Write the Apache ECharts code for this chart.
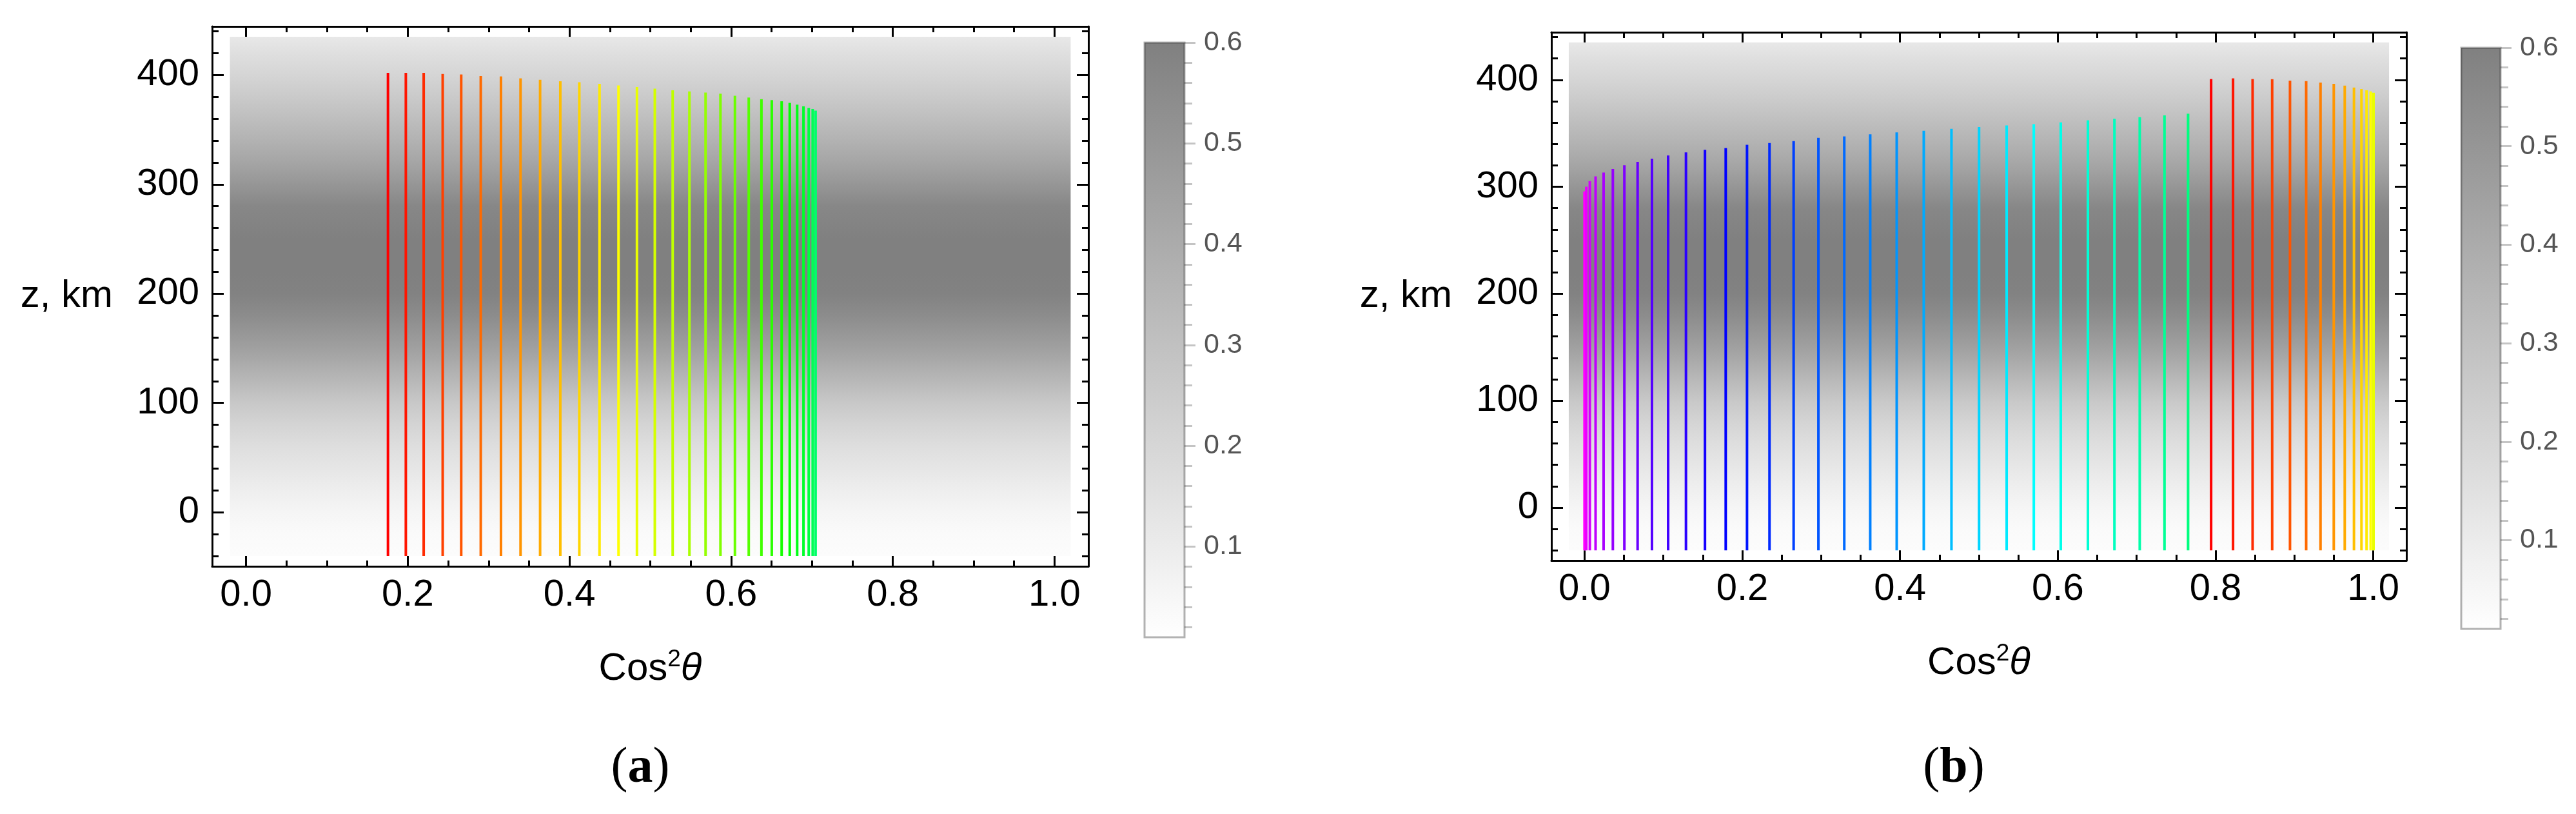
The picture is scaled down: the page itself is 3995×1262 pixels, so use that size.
<!DOCTYPE html>
<html><head><meta charset="utf-8">
<script src="https://cdn.jsdelivr.net/npm/echarts@6/dist/echarts.min.js"></script>
<style>html,body{margin:0;padding:0;background:#fff}#c{width:3995px;height:1262px}</style>
</head><body><div id="c"></div>
<script>
// ---------------- data ----------------
const xTicks = [0.0, 0.2, 0.4, 0.6, 0.8, 1.0];
const xMinorTicks = [0.05, 0.1, 0.15, 0.25, 0.3, 0.35, 0.45, 0.5, 0.55, 0.65, 0.7, 0.75, 0.85, 0.9, 0.95];
const zTicks = [0, 100, 200, 300, 400];
const zMinorTicks = [-40, -20, 20, 40, 60, 80, 120, 140, 160, 180, 220, 240, 260, 280, 320, 340, 360, 380, 420, 440];
const cbTicks = [0.1, 0.2, 0.3, 0.4, 0.5, 0.6];
const cbMinorTicks = [0.02, 0.04, 0.06, 0.08, 0.12, 0.14, 0.16, 0.18, 0.22, 0.24, 0.26, 0.28, 0.32, 0.34, 0.36, 0.38, 0.42, 0.44, 0.46, 0.48, 0.52, 0.54, 0.56, 0.58];
const cbRange = [0.01, 0.6];

// density profile (independent of cos^2 theta)
const densityX = [-0.02, 1.02];
const densityZ = [-40, -20, 0, 20, 40, 60, 80, 100, 125, 150, 180, 200, 220, 250, 280, 300, 320, 340, 360, 380, 400, 420, 435];
const densityV = [0.024, 0.033, 0.056, 0.089, 0.125, 0.163, 0.21, 0.266, 0.358, 0.451, 0.544, 0.59, 0.6, 0.6, 0.567, 0.498, 0.428, 0.37, 0.312, 0.258, 0.205, 0.16, 0.117];

const lineBottom = -40;

// panel (a)
const aX = [0.1755, 0.1976, 0.2197, 0.2432, 0.2661, 0.2903, 0.3153, 0.3395, 0.3637, 0.3887, 0.4122, 0.4372, 0.4607, 0.4835, 0.5056, 0.5277, 0.5484, 0.5684, 0.5868, 0.6047, 0.6218, 0.6375, 0.6503, 0.6625, 0.6725, 0.6817, 0.6895, 0.6960, 0.7009, 0.7045];
const aTop = [402, 402, 402, 401, 400.5, 399, 398.7, 397, 395.6, 394.4, 393.4, 392, 390.5, 389, 387.5, 386, 385, 384, 383, 381, 379.5, 378, 377, 376, 374.5, 373, 371.5, 370, 369, 367.5];

// panel (b), first family
const bX1 = [0.0, 0.0023, 0.0067, 0.014, 0.0242, 0.0359, 0.0505, 0.0673, 0.0855, 0.106, 0.1286, 0.1527, 0.179, 0.206, 0.2345, 0.2651, 0.2965, 0.3293, 0.3622, 0.3958, 0.4301, 0.4652, 0.5002, 0.5352, 0.5696, 0.6038, 0.6382, 0.6718, 0.7039, 0.7353, 0.7652];
const bTop1 = [295.7, 300.1, 305.3, 309.7, 313.3, 316.7, 320.1, 323.3, 326.3, 329.3, 332.1, 334.5, 336.3, 339.2, 340.9, 342.7, 345.7, 347.1, 349, 350.8, 352.4, 354.2, 355.8, 357.4, 358.6, 360.2, 362.2, 363.6, 365.2, 366.8, 368.4];
// panel (b), second family
const bX2 = [0.7944, 0.8222, 0.847, 0.8718, 0.8944, 0.9149, 0.9331, 0.9499, 0.9638, 0.9755, 0.985, 0.9915, 0.9967, 1.0003];
const bTop2 = [400.8, 401.4, 400.8, 400.6, 399.2, 398.8, 397.4, 396.2, 394.6, 392.8, 391.4, 390.2, 389.2, 388];

// ---------------- styling helpers ----------------
const FONT = 'Liberation Sans';
function hueColor(h) {
  h = ((h % 360) + 360) % 360;
  const x = 1 - Math.abs((h / 60) % 2 - 1);
  let r, g, b;
  if (h < 60) [r, g, b] = [1, x, 0];
  else if (h < 120) [r, g, b] = [x, 1, 0];
  else if (h < 180) [r, g, b] = [0, 1, x];
  else if (h < 240) [r, g, b] = [0, x, 1];
  else if (h < 300) [r, g, b] = [x, 0, 1];
  else [r, g, b] = [1, 0, x];
  return 'rgb(' + Math.round(r * 255) + ',' + Math.round(g * 255) + ',' + Math.round(b * 255) + ')';
}
function grayOf(v) {
  const t = Math.max(0, Math.min(1, (v - cbRange[0]) / (cbRange[1] - cbRange[0])));
  const L = Math.round(255 - t * 127);
  return 'rgb(' + L + ',' + L + ',' + L + ')';
}

const XR = [-0.042, 1.042];
const ZR = [-49.5, 444.5];
const tickStyle = { color: '#000', width: 3 };

function panelXAxes(gi) {
  const base = { gridIndex: gi, type: 'value', min: XR[0], max: XR[1], splitLine: { show: false } };
  return [
    Object.assign({}, base, {
      position: 'bottom',
      axisLine: { onZero: false, lineStyle: { color: '#000', width: 3 } },
      axisTick: { inside: true, length: 17, customValues: xTicks, lineStyle: tickStyle },
      axisLabel: { customValues: xTicks, formatter: v => v.toFixed(1), fontSize: 58, fontFamily: FONT, color: '#000', margin: 16 },
      name: '{n|Cos}{s|2}{t|θ}', nameLocation: 'middle', nameGap: 126,
      nameTextStyle: { rich: {
        n: { fontSize: 60, fontFamily: FONT, color: '#000', lineHeight: 66 },
        s: { fontSize: 37, fontFamily: FONT, color: '#000', verticalAlign: 'top', lineHeight: 66 },
        t: { fontSize: 60, fontFamily: FONT, color: '#000', fontStyle: 'italic', lineHeight: 66 } } }
    }),
    Object.assign({}, base, {
      position: 'bottom', axisLine: { show: false, onZero: false },
      axisTick: { inside: true, length: 9, customValues: xMinorTicks, lineStyle: tickStyle },
      axisLabel: { show: false }
    }),
    Object.assign({}, base, {
      position: 'top', axisLine: { onZero: false, lineStyle: { color: '#000', width: 3 } },
      axisTick: { inside: true, length: 17, customValues: xTicks, lineStyle: tickStyle },
      axisLabel: { show: false }
    }),
    Object.assign({}, base, {
      position: 'top', axisLine: { show: false, onZero: false },
      axisTick: { inside: true, length: 9, customValues: xMinorTicks, lineStyle: tickStyle },
      axisLabel: { show: false }
    })
  ];
}
function panelYAxes(gi) {
  const base = { gridIndex: gi, type: 'value', min: ZR[0], max: ZR[1], splitLine: { show: false } };
  return [
    Object.assign({}, base, {
      position: 'left',
      axisLine: { onZero: false, lineStyle: { color: '#000', width: 3 } },
      axisTick: { inside: true, length: 18, customValues: zTicks, lineStyle: tickStyle },
      axisLabel: { customValues: zTicks, fontSize: 58, fontFamily: FONT, color: '#000', margin: 20 },
      name: 'z, km', nameLocation: 'middle', nameRotate: 0, nameGap: 154,
      nameTextStyle: { fontSize: 60, fontFamily: FONT, color: '#000' }
    }),
    Object.assign({}, base, {
      position: 'left', axisLine: { show: false, onZero: false },
      axisTick: { inside: true, length: 10, customValues: zMinorTicks, lineStyle: tickStyle },
      axisLabel: { show: false }
    }),
    Object.assign({}, base, {
      position: 'right', axisLine: { onZero: false, lineStyle: { color: '#000', width: 3 } },
      axisTick: { inside: true, length: 18, customValues: zTicks, lineStyle: tickStyle },
      axisLabel: { show: false }
    }),
    Object.assign({}, base, {
      position: 'right', axisLine: { show: false, onZero: false },
      axisTick: { inside: true, length: 10, customValues: zMinorTicks, lineStyle: tickStyle },
      axisLabel: { show: false }
    })
  ];
}
function cbXAxis(gi) {
  return { gridIndex: gi, type: 'value', min: 0, max: 1, show: false };
}
function cbYAxes(gi) {
  const base = { gridIndex: gi, type: 'value', min: cbRange[0], max: cbRange[1], position: 'right', splitLine: { show: false } };
  return [
    Object.assign({}, base, {
      axisLine: { show: false, onZero: false },
      axisTick: { inside: false, length: 17, customValues: cbTicks, lineStyle: { color: '#c4c4c4', width: 3 } },
      axisLabel: { customValues: cbTicks, formatter: v => v.toFixed(1), fontSize: 43, fontFamily: FONT, color: '#555', margin: 30 }
    }),
    Object.assign({}, base, {
      axisLine: { show: false, onZero: false },
      axisTick: { inside: false, length: 12, customValues: cbMinorTicks, lineStyle: { color: '#c4c4c4', width: 3 } },
      axisLabel: { show: false }
    })
  ];
}

function densitySeries(xi, yi) {
  const zTop = densityZ[densityZ.length - 1], zBot = densityZ[0];
  const stops = densityZ.map((z, i) => ({ offset: (zTop - z) / (zTop - zBot), color: grayOf(densityV[i]) }))
    .sort((a, b) => a.offset - b.offset);
  return {
    type: 'custom', xAxisIndex: xi, yAxisIndex: yi, silent: true, z: 1,
    data: [[densityX[0], zTop, densityX[1], zBot]],
    renderItem: (params, api) => {
      const p0 = api.coord([api.value(0), api.value(1)]);
      const p1 = api.coord([api.value(2), api.value(3)]);
      return { type: 'rect', shape: { x: p0[0], y: p0[1], width: p1[0] - p0[0], height: p1[1] - p0[1] },
        style: { fill: { type: 'linear', x: 0, y: 0, x2: 0, y2: 1, colorStops: stops } } };
    }
  };
}
function colorbarSeries(xi, yi) {
  return {
    type: 'custom', xAxisIndex: xi, yAxisIndex: yi, silent: true, z: 1,
    data: [[0, cbRange[1], 1, cbRange[0]]],
    renderItem: (params, api) => {
      const p0 = api.coord([api.value(0), api.value(1)]);
      const p1 = api.coord([api.value(2), api.value(3)]);
      return { type: 'rect', shape: { x: p0[0], y: p0[1], width: p1[0] - p0[0], height: p1[1] - p0[1] },
        style: { fill: { type: 'linear', x: 0, y: 0, x2: 0, y2: 1,
          colorStops: [{ offset: 0, color: grayOf(cbRange[1]) }, { offset: 1, color: grayOf(cbRange[0]) }] },
          stroke: 'rgba(0,0,0,0.3)', lineWidth: 3 } };
    }
  };
}
function linesSeries(xi, yi, xs, tops, hueStart, hueStep) {
  return {
    type: 'custom', xAxisIndex: xi, yAxisIndex: yi, silent: true, z: 3,
    data: xs.map((x, i) => [x, lineBottom, tops[i], i]),
    renderItem: (params, api) => {
      const i = api.value(3);
      const p0 = api.coord([api.value(0), api.value(1)]);
      const p1 = api.coord([api.value(0), api.value(2)]);
      return { type: 'line', shape: { x1: p0[0], y1: p0[1], x2: p1[0], y2: p1[1] },
        style: { stroke: hueColor(hueStart + hueStep * i), lineWidth: 4 } };
    }
  };
}

const chart = echarts.init(document.getElementById('c'), null, { renderer: 'canvas' });
chart.setOption({
  backgroundColor: '#fff',
  animation: false,
  grid: [
    { left: 329, top: 41, width: 1359, height: 837 },
    { left: 2406, top: 50, width: 1326, height: 819 },
    { left: 1775, top: 66, width: 62, height: 922 },
    { left: 3817, top: 74, width: 61, height: 901 }
  ],
  xAxis: [].concat(panelXAxes(0), panelXAxes(1), [cbXAxis(2), cbXAxis(3)]),
  yAxis: [].concat(panelYAxes(0), panelYAxes(1), cbYAxes(2), cbYAxes(3)),
  series: [
    densitySeries(0, 0),
    linesSeries(0, 0, aX, aTop, 0, 5),
    densitySeries(4, 4),
    linesSeries(4, 4, bX1, bTop1, 300, -5),
    linesSeries(4, 4, bX2, bTop2, 0, 5),
    colorbarSeries(8, 8),
    colorbarSeries(9, 10)
  ],
  graphic: [
    { type: 'text', x: 993, y: 1192, style: { text: '{p|(}{b|a}{p|)}', align: 'center', verticalAlign: 'middle',
      rich: { p: { fontSize: 78, fontFamily: 'Liberation Serif', fill: '#000' }, b: { fontSize: 78, fontFamily: 'Liberation Serif', fontWeight: 'bold', fill: '#000' } } } },
    { type: 'text', x: 3030, y: 1192, style: { text: '{p|(}{b|b}{p|)}', align: 'center', verticalAlign: 'middle',
      rich: { p: { fontSize: 78, fontFamily: 'Liberation Serif', fill: '#000' }, b: { fontSize: 78, fontFamily: 'Liberation Serif', fontWeight: 'bold', fill: '#000' } } } }
  ]
});
</script></body></html>
